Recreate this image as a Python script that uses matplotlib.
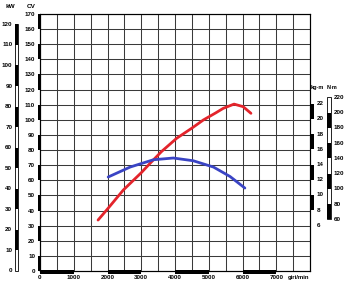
import matplotlib
matplotlib.use("Agg")
import matplotlib.pyplot as plt

# engine curves
rpm_power = [1720, 2000, 2470, 3000, 3260, 3600, 4050, 4500, 4840, 5200, 5430, 5750, 6020, 6250]
power_cv = [33.7, 41.0, 53.6, 65.0, 71.2, 79.0, 87.8, 94.5, 99.9, 104.5, 107.6, 110.4, 108.7, 104.3]

rpm_torque = [2020, 2670, 3360, 3950, 4540, 5140, 5630, 6070]
torque_kgm = [12.36, 13.67, 14.63, 14.86, 14.50, 13.67, 12.43, 10.91]

cv_ticks = list(range(0, 171, 10))
kw_ticks = list(range(0, 121, 10))
kgm_ticks = list(range(6, 23, 2))
nm_ticks = list(range(60, 221, 20))
rpm_ticks = list(range(0, 7001, 1000))

W, H = 350, 284
fig = plt.figure(figsize=(W / 100, H / 100), dpi=100)
plt.rcParams['font.family'] = ['Liberation Sans', 'DejaVu Sans']

# plot box in pixels
px_l, px_r, px_t, px_b = 40, 310, 14, 271


def box(x0, x1, y0=px_t, y1=px_b):
    return [x0 / W, (H - y1) / H, (x1 - x0) / W, (y1 - y0) / H]


lab = dict(fontsize=4.5, fontweight='bold')

ax = fig.add_axes(box(px_l, px_r))
ax.set_xlim(0, 8000)
ax.set_ylim(0, 170)
ax.set_xticks(range(0, 8001, 500))
ax.set_yticks(cv_ticks)
ax.grid(True, color='#3a3a3a', lw=0.75)
ax.tick_params(length=0, pad=3.5)
ax.set_yticklabels(cv_ticks, **lab)
ax.set_xticklabels([])
for s in ax.spines.values():
    s.set_color('#333333')
    s.set_linewidth(0.8)
ax.plot(rpm_power, power_cv, color='#e3242b', lw=2.0, solid_capstyle='round', zorder=5)

ax2 = ax.twinx()
ax2.set_ylim(0, 33.8)
ax2.set_yticks([])
ax2.plot(rpm_torque, torque_kgm, color='#3a44c4', lw=2.0, solid_capstyle='round', zorder=5)

for r in rpm_ticks:
    ax.text(r, -2.5, str(r), ha='center', va='top', **lab)
ax.text(7650, -2.5, 'giri/min', ha='center', va='top', fontsize=4.3, fontweight='bold')


def scale(rect, lo, hi, step, black_from, lim, vertical=True, outline=True):
    # alternating black/white bar, black segments start at black_from
    a = fig.add_axes(rect)
    a.set_axis_off()
    segs = list(range(black_from, hi, 2 * step))
    if vertical:
        a.set_ylim(*lim)
        a.set_xlim(0, 1)
        if outline:
            a.bar(0.5, hi - lo, bottom=lo, width=1, color='white', edgecolor='black',
                  lw=0.6, clip_on=False)
        a.bar([0.5] * len(segs), [step] * len(segs), bottom=segs, width=1,
              color='black', clip_on=False)
    else:
        a.set_xlim(*lim)
        a.set_ylim(0, 1)
        a.barh([0.5] * len(segs), [step] * len(segs), left=segs, height=1,
               color='black', clip_on=False)
    return a


# kW scale on the far left, aligned with CV
kw = scale(box(15, 18), 0, 120, 10, 10, (0, 170 * 0.7355))
for v in kw_ticks:
    kw.text(-0.9, v, str(v), ha='right', va='center', **lab)

# CV bar on the left spine
scale(box(38, 41), 0, 170, 10, 0, (0, 170), outline=False)

# rpm bar under the x axis
scale(box(px_l, px_r, 270, 274), 0, 8000, 1000, 0, (0, 8000), vertical=False)

# kg-m scale on the right
kg = scale(box(310, 314), 6, 22, 2, 8, (0, 33.8), outline=False)
for v in kgm_ticks:
    kg.text(1.6, v, str(v), ha='left', va='center', **lab)
kg.text(1.8, 23.8, 'kg·m', ha='center', va='bottom', fontsize=4.0, fontweight='bold')

# N-m scale
nm = scale(box(327, 331), 60, 220, 20, 60, (-7.8, 329.2))
for v in nm_ticks:
    nm.text(1.6, v, str(v), ha='left', va='center', **lab)
nm.text(1.2, 230, 'N·m', ha='center', va='bottom', fontsize=4.0, fontweight='bold')

fig.text(10 / W, 1 - 6 / H, 'kW', ha='center', va='center', fontsize=4.6, fontweight='bold')
fig.text(31 / W, 1 - 6 / H, 'CV', ha='center', va='center', fontsize=4.6, fontweight='bold')

fig.savefig('out.png', dpi=100)
